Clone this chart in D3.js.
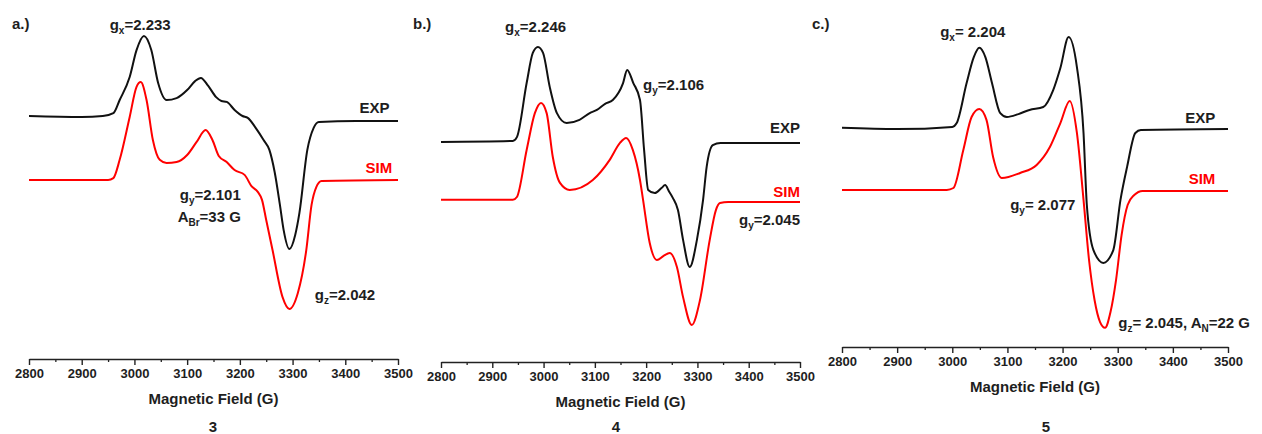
<!DOCTYPE html>
<html>
<head>
<meta charset="utf-8">
<script src="https://cdn.jsdelivr.net/npm/d3@7"></script>
<style>
  body { margin: 0; background: #fff; }
  svg { display: block; }
  text { font-family: "Liberation Sans", Arial, sans-serif; font-weight: bold; fill: #1e1e1e; }
</style>
</head>
<body>
<script>
// field (G), intensity (arb. units)
const expA = [[2800,7.00],[2900,6.97],[2940,7.00],[2960,7.09],[2972,7.50],[2991,8.22],[3004,9.06],[3018,9.50],[3032,9.06],[3045,8.03],[3061,7.50],[3080,7.56],[3100,7.81],[3115,8.09],[3126,8.19],[3140,7.94],[3155,7.59],[3165,7.47],[3175,7.44],[3190,7.19],[3205,7.00],[3215,6.94],[3230,6.63],[3245,6.25],[3256,5.94],[3266,5.25],[3276,4.22],[3283,3.44],[3294,2.84],[3305,3.28],[3313,3.97],[3328,5.94],[3340,6.63],[3350,6.81],[3420,6.84],[3500,6.84]];
const simA = [[2800,5.00],[2950,5.00],[2960,5.06],[2972,5.63],[2991,6.97],[3004,7.91],[3012,8.06],[3023,7.50],[3035,6.25],[3048,5.63],[3061,5.53],[3080,5.56],[3100,5.78],[3118,6.19],[3135,6.56],[3148,6.25],[3160,5.75],[3175,5.56],[3190,5.31],[3209,5.16],[3222,4.81],[3234,4.63],[3242,4.38],[3250,3.75],[3262,2.81],[3281,1.34],[3294,0.97],[3310,1.47],[3326,2.81],[3336,4.22],[3345,4.78],[3355,4.97],[3500,5.00]];

const expB = [[2800,6.19],[2940,6.22],[2948,6.34],[2967,8.03],[2979,8.97],[2989,9.16],[2999,8.97],[3012,7.91],[3026,7.09],[3045,6.78],[3070,6.88],[3090,7.09],[3104,7.19],[3120,7.38],[3135,7.50],[3155,8.03],[3163,8.44],[3175,8.03],[3188,7.50],[3196,5.94],[3204,4.69],[3217,4.59],[3230,4.75],[3237,4.84],[3245,4.63],[3252,4.44],[3262,4.06],[3272,3.13],[3285,2.28],[3299,3.13],[3311,4.38],[3318,5.41],[3330,6.09],[3345,6.16],[3500,6.16]];
const simB = [[2800,4.38],[2940,4.38],[2948,4.47],[2967,5.94],[2983,7.09],[2995,7.41],[3006,7.09],[3018,5.72],[3032,4.91],[3051,4.69],[3096,5.00],[3129,5.63],[3149,6.16],[3161,6.31],[3174,5.94],[3188,5.00],[3194,4.38],[3207,3.03],[3221,2.50],[3234,2.63],[3246,2.72],[3260,2.28],[3272,1.34],[3289,0.47],[3305,1.25],[3324,3.13],[3336,4.06],[3344,4.28],[3360,4.31],[3500,4.31]];

const expC = [[2800,6.63],[2900,6.59],[3000,6.66],[3008,6.78],[3026,8.03],[3039,8.84],[3049,9.13],[3060,8.84],[3072,8.03],[3087,7.09],[3099,6.97],[3120,7.06],[3140,7.19],[3165,7.28],[3183,7.81],[3196,8.50],[3211,9.47],[3226,8.53],[3238,6.47],[3244,4.22],[3256,2.81],[3274,2.41],[3292,2.81],[3305,4.38],[3317,5.41],[3332,6.47],[3342,6.56],[3500,6.59]];
const simC = [[2800,4.69],[2990,4.69],[3002,4.75],[3020,5.94],[3035,6.97],[3049,7.22],[3062,6.88],[3074,5.72],[3090,5.06],[3123,5.22],[3153,5.47],[3177,6.03],[3196,6.78],[3213,7.47],[3226,6.47],[3238,4.38],[3248,2.50],[3258,1.25],[3268,0.56],[3277,0.38],[3287,0.88],[3297,1.88],[3307,3.28],[3318,4.22],[3330,4.53],[3345,4.66],[3500,4.66]];

const fieldDomain = [2800, 3500];
const majorTicks = [2800, 2900, 3000, 3100, 3200, 3300, 3400, 3500];
const minorTicks = [2850, 2950, 3050, 3150, 3250, 3350, 3450];
const panelTags = ["a.)", "b.)", "c.)"];
const compoundIds = ["3", "4", "5"];
const xTitle = "Magnetic Field (G)";

// annotations: [field, intensity, anchor, color, parts]; parts = [text, isSub]
const notesA = [
  [2953, 9.69, "start", "#1e1e1e", [["g",0],["x",1],["=2.233",0]]],
  [3484, 7.09, "end", "#1e1e1e", [["EXP",0]]],
  [3489, 5.22, "end", "#ff0000", [["SIM",0]]],
  [3086, 4.38, "start", "#1e1e1e", [["g",0],["y",1],["=2.101",0]]],
  [3082, 3.69, "start", "#1e1e1e", [["A",0],["Br",1],["=33 G",0]]],
  [3342, 1.25, "start", "#1e1e1e", [["g",0],["z",1],["=2.042",0]]]
];
const notesB = [
  [2925, 9.63, "start", "#1e1e1e", [["g",0],["x",1],["=2.246",0]]],
  [3194, 7.81, "start", "#1e1e1e", [["g",0],["y",1],["=2.106",0]]],
  [3500, 6.47, "end", "#1e1e1e", [["EXP",0]]],
  [3500, 4.47, "end", "#ff0000", [["SIM",0]]],
  [3500, 3.59, "end", "#1e1e1e", [["g",0],["y",1],["=2.045",0]]]
];
const notesC = [
  [2978, 9.47, "start", "#1e1e1e", [["g",0],["x",1],["= 2.204",0]]],
  [3477, 6.78, "end", "#1e1e1e", [["EXP",0]]],
  [3477, 4.88, "end", "#ff0000", [["SIM",0]]],
  [3105, 4.06, "start", "#1e1e1e", [["g",0],["y",1],["= 2.077",0]]],
  [3301, 0.38, "start", "#1e1e1e", [["g",0],["z",1],["= 2.045, A",0],["N",1],["=22 G",0]]]
];

const width = 1262, height = 434;

// layout for each panel
const panels = [
  {x0: 29, x1: 398, axisY: 359, tagX: 12, exp: expA, sim: simA, notes: notesA, idX: 213},
  {x0: 441, x1: 800, axisY: 362, tagX: 413, exp: expB, sim: simB, notes: notesB, idX: 616},
  {x0: 842, x1: 1228, axisY: 347, tagX: 812, exp: expC, sim: simC, notes: notesC, idX: 1046}
];

const svg = d3.select("body").append("svg")
  .attr("width", width)
  .attr("height", height);

const y = d3.scaleLinear().domain([0, 10]).range([340, 20]);

panels.forEach((p, i) => {
  const x = d3.scaleLinear().domain(fieldDomain).range([p.x0, p.x1]);
  const g = svg.append("g");

  const line = d3.line()
    .x(d => x(d[0]))
    .y(d => y(d[1]))
    .curve(d3.curveMonotoneX);

  g.append("path")
    .datum(p.sim)
    .attr("fill", "none")
    .attr("stroke", "#ff0000")
    .attr("stroke-width", 2)
    .attr("d", line);

  g.append("path")
    .datum(p.exp)
    .attr("fill", "none")
    .attr("stroke", "#111")
    .attr("stroke-width", 2)
    .attr("d", line);

  // minor ticks
  g.append("g")
    .attr("transform", `translate(0,${p.axisY})`)
    .call(d3.axisBottom(x).tickValues(minorTicks).tickSize(3).tickFormat(""))
    .call(a => a.select(".domain").remove())
    .selectAll("line").attr("stroke", "#222").attr("stroke-width", 1.3);

  const ax = g.append("g")
    .attr("transform", `translate(0,${p.axisY})`)
    .call(d3.axisBottom(x).tickValues(majorTicks).tickSize(6).tickSizeOuter(0).tickPadding(4).tickFormat(d3.format("d")));
  ax.select(".domain").attr("stroke", "#222").attr("stroke-width", 1.4);
  ax.selectAll("line").attr("stroke", "#222").attr("stroke-width", 1.4);
  ax.selectAll("text")
    .attr("font-size", 13)
    .attr("font-family", "Liberation Sans, Arial, sans-serif")
    .attr("font-weight", "bold")
    .attr("fill", "#1e1e1e");

  g.append("text")
    .attr("x", (p.x0 + p.x1) / 2)
    .attr("y", p.axisY + 45)
    .attr("text-anchor", "middle")
    .attr("font-size", 15)
    .text(xTitle);

  g.append("text")
    .attr("x", p.tagX)
    .attr("y", 29)
    .attr("font-size", 15)
    .text(panelTags[i]);

  g.append("text")
    .attr("x", p.idX)
    .attr("y", 432)
    .attr("text-anchor", "middle")
    .attr("font-size", 15)
    .attr("font-weight", "normal")
    .text(compoundIds[i]);

  p.notes.forEach(n => {
    const t = g.append("text")
      .attr("x", x(n[0]))
      .attr("y", y(n[1]))
      .attr("text-anchor", n[2])
      .attr("font-size", 15)
      .style("fill", n[3]);
    n[4].forEach(part => {
      const s = t.append("tspan").text(part[0]);
      if (part[1]) s.attr("font-size", 10).attr("dy", 4);
      else if (t.selectAll("tspan").size() > 1) s.attr("dy", 0);
    });
    // reset baseline after subscripts
    let shift = 0;
    t.selectAll("tspan").each(function(d, k) {
      const isSub = n[4][k][1];
      const dy = isSub ? 4 - shift : -shift;
      d3.select(this).attr("dy", dy);
      shift = isSub ? 4 : 0;
    });
  });
});
</script>
</body>
</html>
